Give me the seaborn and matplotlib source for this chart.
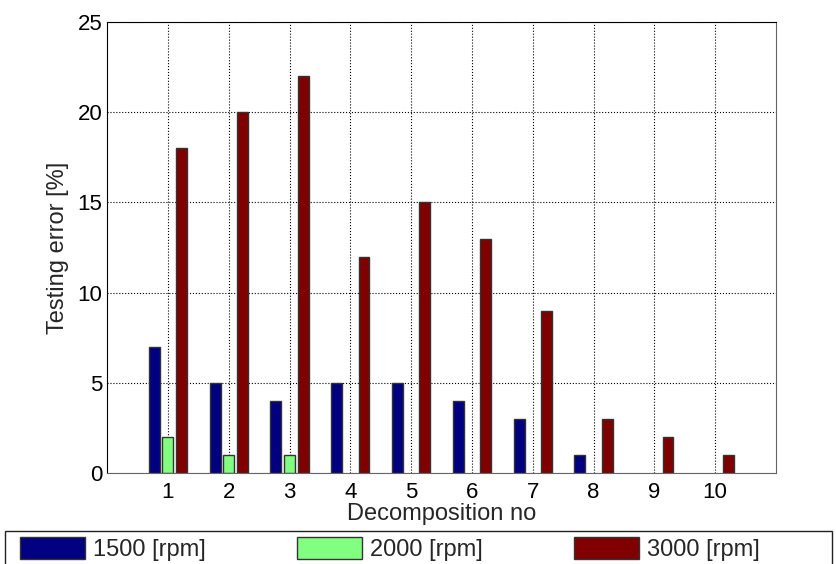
import pandas as pd
import matplotlib.pyplot as plt
import seaborn as sns
from matplotlib.patches import Rectangle

# dados
decomposicoes = ['1', '2', '3', '4', '5', '6', '7', '8', '9', '10']
erro_1500 = [7, 5, 4, 5, 5, 4, 3, 1, 0, 0]
erro_2000 = [2, 1, 1, 0, 0, 0, 0, 0, 0, 0]
erro_3000 = [18, 20, 22, 12, 15, 13, 9, 3, 2, 1]
series = ['1500 [rpm]', '2000 [rpm]', '3000 [rpm]']
cores = ['#000080', '#80FF80', '#800000']

df = pd.DataFrame({
    'Decomposition no': decomposicoes * 3,
    'erro': erro_1500 + erro_2000 + erro_3000,
    'serie': [s for s in series for _ in decomposicoes],
})

sns.set_style('white')
plt.rcParams['font.family'] = ['Liberation Sans', 'DejaVu Sans']

fig = plt.figure(figsize=(8.37, 5.64), dpi=100)
ax = fig.add_axes([0.128, 0.161, 0.799, 0.800])

sns.barplot(
    data=df, x='Decomposition no', y='erro', hue='serie',
    order=decomposicoes, hue_order=series, palette=cores,
    width=0.675, gap=0.2, edgecolor='#333333', linewidth=1.0,
    saturation=1, ax=ax, legend=True,
)
# barras de altura zero não aparecem no original
for cont in ax.containers:
    for barra in cont:
        if barra.get_height() == 0:
            barra.set_visible(False)

ax.set_xlim(-1, 10)
ax.set_ylim(0, 25)
ax.set_yticks(range(0, 26, 5))
ax.grid(True, linestyle=':', color='black', linewidth=0.8)
ax.set_axisbelow(True)
ax.tick_params(direction='in', length=5, labelsize=16, colors='black',
               top=False, right=False)
ax.tick_params(axis='x', pad=6)
ax.set_xlabel('Decomposition no', fontsize=17, labelpad=0)
ax.set_ylabel('Testing error [%]', fontsize=17, labelpad=6)
for lado in ['top', 'left']:
    ax.spines[lado].set_color('black')
for lado in ['right', 'bottom']:
    ax.spines[lado].set_color('#666666')

handles, labels = ax.get_legend_handles_labels()
ax.get_legend().remove()
fig.legend(
    handles, labels, loc='center left', ncol=3,
    bbox_to_anchor=(20 / 837, 0.027), fontsize=17,
    frameon=False, handlelength=2.75, handleheight=1.05,
    handletextpad=0.35, borderpad=0, borderaxespad=0, columnspacing=3.85,
)
# moldura da legenda, larga como no original
fig.patches.append(Rectangle((5 / 837, -0.05), 827 / 837, 0.05 + 1 - 531 / 564,
                             transform=fig.transFigure, fill=False,
                             edgecolor='#222222', linewidth=1.0))

plt.savefig('out.png', dpi=100)
